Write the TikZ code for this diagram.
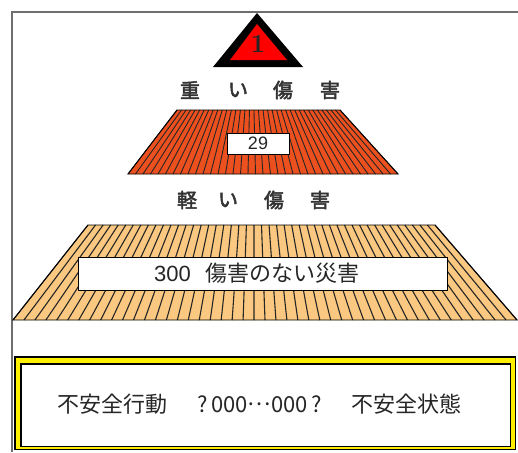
\documentclass[tikz,border=0pt]{standalone}
\usepackage{fontspec}
\newfontfamily\jp{Noto Sans CJK JP}
\newfontfamily\jpb{Noto Sans CJK JP}[FakeBold=2.5]
\setsansfont{Liberation Sans}
\definecolor{redtrap}{RGB}{236,80,30}
\definecolor{tantrap}{RGB}{250,200,128}
\definecolor{framegray}{RGB}{110,110,110}
\definecolor{boxyellow}{RGB}{255,240,0}
\begin{document}
\begin{tikzpicture}[x=1pt,y=-1pt,
  head/.style={font=\jpb\fontsize{20}{20}\selectfont, text=black!80, inner sep=0pt},
  stripe/.style={line width=1.1pt, black!85},
  edge/.style={line width=0.9pt, black},
  label/.style={draw=black, line width=0.7pt, fill=white, inner sep=0pt}]
\useasboundingbox (0,0) rectangle (518,452);
\fill[white] (0,0) rectangle (518,452);
% frame
\draw[framegray, line width=1.6pt] (12,452) -- (12,12) -- (518,12);
% triangle
\fill[black] (213,67) -- (257,13) -- (303,67) -- cycle;
\fill[red] (230,60) -- (257,24) -- (287,60) -- cycle;
\node[inner sep=0pt, font=\bfseries\fontsize{26}{26}\selectfont, text=black!85] (one) at (258,44) {1};
% heading 1
\node[head] (h1a) at (190,90) {重};
\node[head] (h1b) at (238,90) {い};
\node[head] (h1c) at (283,90) {傷};
\node[head] (h1d) at (330,90) {害};
% red trapezoid
\fill[redtrap] (177,110) -- (340,110) -- (398,174) -- (128,174) -- cycle;
\foreach \i in {0,...,36} {
  \draw[stripe, line width=0.9pt] ({177+\i/36*163},110) -- ({128+\i/36*270},174);
}
\draw[edge] (177,110) -- (340,110) -- (398,174) -- (128,174) -- cycle;
\node[label, minimum width=62pt, minimum height=21pt, font=\sffamily\fontsize{18}{18}\selectfont, text=black!85] (n29) at (258,143.5) {29};
% heading 2
\node[head] (h2a) at (187,200) {軽};
\node[head] (h2b) at (228,200) {い};
\node[head] (h2c) at (274,200) {傷};
\node[head] (h2d) at (320,200) {害};
% tan trapezoid
\fill[tantrap] (88,225) -- (435,225) -- (517,320) -- (13,320) -- cycle;
\foreach \i in {0,...,46} {
  \draw[stripe] ({88+\i/46*347},225) -- ({13+\i/46*504},320);
}
\draw[edge] (88,225) -- (435,225) -- (517,320) -- (13,320) -- cycle;
\node[label, minimum width=369pt, minimum height=33pt] (n300) at (262.5,273.5) {};
\node[inner sep=0pt, font=\sffamily\fontsize{22}{22}\selectfont, text=black!85, anchor=east] (t300) at (191,274) {300};
\node[inner sep=0pt, font=\jp\fontsize{22}{22}\selectfont, text=black!85, anchor=west] (t300b) at (205,273.5) {傷害のない災害};
% bottom box
\fill[black] (14,356) rectangle (516,450);
\fill[boxyellow] (15.5,357.5) rectangle (514.5,448.5);
\fill[black] (20,363) rectangle (511,447);
\node[fill=white, inner sep=0pt, minimum width=488pt, minimum height=81.5pt, anchor=north west] (bottom) at (21.5,364.5) {};
\node[inner sep=0pt, font=\jp\fontsize{22}{22}\selectfont, text=black!85, anchor=west] (btext) at (57,404) {不安全行動\hspace{30pt}?\,000\raisebox{0.3em}{…}000\,?\hspace{30pt}不安全状態};
\end{tikzpicture}
\end{document}
